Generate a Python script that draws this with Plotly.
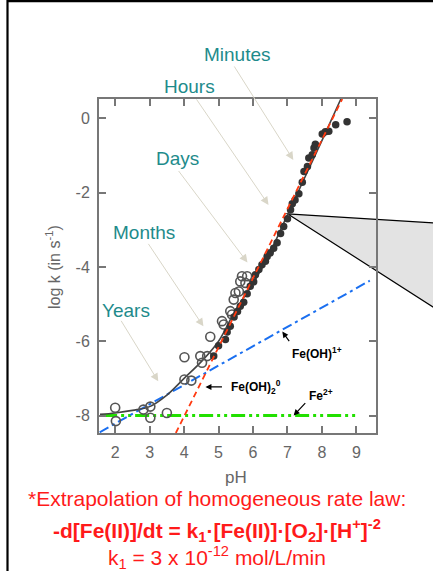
import plotly.graph_objects as go

# ---------------- data ----------------
open_ph = [2.00, 2.02, 2.82, 3.02, 3.02, 3.50, 4.01, 4.01, 4.21, 4.47, 4.52, 4.67, 4.76,
           5.10, 5.15, 5.34, 5.39, 5.44, 5.49, 5.59, 5.63, 5.68, 5.83, 5.78]
open_logk = [-7.79, -8.15, -7.84, -7.76, -8.06, -7.93, -6.43, -7.03, -7.06, -6.40, -6.58, -6.40, -5.88,
             -5.46, -5.55, -5.19, -5.28, -4.88, -4.70, -4.66, -4.39, -4.25, -4.25, -4.43]

filled_ph = [4.86, 5.00, 5.20, 5.25, 5.34, 5.45, 5.55, 5.63, 5.73, 5.83, 5.92, 6.02, 6.07, 6.17,
             6.26, 6.36, 6.41, 6.50, 6.60, 6.70, 6.80, 6.89, 7.00, 7.09, 7.14, 7.22, 7.33, 7.43,
             7.48, 7.58, 7.62, 7.72, 7.77, 7.81, 8.01, 8.10, 8.20, 8.40, 8.73]
filled_logk = [-6.40, -6.12, -5.95, -5.75, -5.60, -5.35, -5.20, -5.06, -4.95, -4.72, -4.52, -4.40,
               -4.21, -4.07, -3.94, -3.85, -3.72, -3.62, -3.50, -3.35, -3.10, -2.91, -2.70, -2.46,
               -2.30, -2.20, -2.03, -1.72, -1.43, -1.30, -1.07, -0.98, -0.80, -0.70, -0.42, -0.36,
               -0.35, -0.17, -0.09]

fit_ph = [1.56, 2.0, 2.5, 3.0, 3.5, 4.0, 4.5, 5.0, 5.5, 6.0, 6.5, 7.0, 7.5, 8.0, 8.55]
fit_logk = [-7.97, -7.93, -7.86, -7.76, -7.45, -7.0, -6.55, -6.0, -5.15, -4.45, -3.6, -2.6, -1.6, -0.6, 0.52]

feoh2_ph = [3.76, 8.59]          # Fe(OH)2^0 term (red dashed)
feoh2_logk = [-8.47, 0.52]
feoh_ph = [1.55, 9.39]           # Fe(OH)+ term (blue dash-dot)
feoh_logk = [-8.45, -4.37]
fe2_ph = [1.65, 9.0]             # Fe2+ term (green)
fe2_logk = [-8.0, -8.0]

x_ticks = [2, 3, 4, 5, 6, 7, 8, 9]
y_ticks = [0, -2, -4, -6, -8]
x_range = [1.53, 9.57]
y_range = [-8.47, 0.52]

time_labels = ["Minutes", "Hours", "Days", "Months", "Years"]
time_targets_ph = [7.17, 6.45, 5.84, 4.56, 3.25]
time_targets_logk = [-1.12, -2.33, -3.88, -5.60, -7.08]

zoom_point = (7.0, -2.57)

# ---------------- figure ----------------
W, H = 433, 571
L, R, T, B = 99, 57, 99, 138
PW, PH = W - L - R, H - T - B

def px2paper(px, py):
    return (px - L) / PW, (H - B - py) / PH

def data2paper(x, y):
    return ((x - x_range[0]) / (x_range[1] - x_range[0]),
            (y - y_range[0]) / (y_range[1] - y_range[0]))

fig = go.Figure()

fig.add_trace(go.Scatter(x=fe2_ph, y=fe2_logk, mode="lines",
                         line=dict(color="#22e000", width=3, dash="14px,4px,3px,4px,3px,4px"),
                         hoverinfo="skip"))
fig.add_trace(go.Scatter(x=feoh_ph, y=feoh_logk, mode="lines",
                         line=dict(color="#1a6ff0", width=2, dash="10px,4px,3px,4px"),
                         hoverinfo="skip"))
fig.add_trace(go.Scatter(x=fit_ph, y=fit_logk, mode="lines", line_shape="spline",
                         line=dict(color="#444444", width=1.6), hoverinfo="skip"))
fig.add_trace(go.Scatter(x=open_ph, y=open_logk, mode="markers",
                         marker=dict(symbol="circle-open", size=9, color="#555555",
                                     line=dict(width=1.6, color="#555555"))))
fig.add_trace(go.Scatter(x=filled_ph, y=filled_logk, mode="markers",
                         marker=dict(symbol="circle", size=7.5, color="#333333")))
fig.add_trace(go.Scatter(x=feoh2_ph, y=feoh2_logk, mode="lines",
                         line=dict(color="#ff3a10", width=1.8, dash="6px,4px"),
                         hoverinfo="skip"))

axis_common = dict(showline=True, linecolor="#777777", linewidth=2, mirror="ticks",
                   ticks="inside", ticklen=7, tickwidth=2, tickcolor="#777777",
                   showgrid=False, zeroline=False,
                   tickfont=dict(family="Liberation Sans, Arial, sans-serif", size=16, color="#666666"))

fig.update_layout(
    width=W, height=H,
    margin=dict(l=L, r=R, t=T, b=B),
    paper_bgcolor="white", plot_bgcolor="rgba(0,0,0,0)",
    showlegend=False,
    xaxis=dict(range=x_range, tickvals=x_ticks, ticktext=[str(v) for v in x_ticks],
               ticklabelstandoff=4, **axis_common),
    yaxis=dict(range=y_range, tickvals=y_ticks, ticktext=[str(v) for v in y_ticks],
               ticklabelstandoff=4, **axis_common),
)

# outer frame
fx0, fy1 = px2paper(7.5, 1.2)
fx1, fy0 = px2paper(460, 600)
fig.add_shape(type="rect", xref="paper", yref="paper", x0=fx0, x1=fx1, y0=fy0, y1=fy1,
              line=dict(color="black", width=2.2), fillcolor="rgba(0,0,0,0)", layer="above")

# zoom triangle
vx, vy = data2paper(*zoom_point)
ux, uy = px2paper(445, 223.7)
lx, ly = px2paper(445, 314.6)
fig.add_shape(type="path", xref="paper", yref="paper",
              path=f"M {vx},{vy} L {ux},{uy} L {lx},{ly} Z",
              fillcolor="#e3e3e3", line=dict(color="black", width=1.2), layer="below")

# axis titles
tx, ty = px2paper(53, 267)
fig.add_annotation(xref="paper", yref="paper", x=tx, y=ty, text="log k (in s<sup>-1</sup>)",
                   textangle=-90, showarrow=False, xanchor="center", yanchor="middle",
                   font=dict(family="Liberation Sans, Arial, sans-serif", size=16, color="#666666"))
tx, ty = px2paper(236, 478)
fig.add_annotation(xref="paper", yref="paper", x=tx, y=ty, text="pH", showarrow=False,
                   xanchor="center", yanchor="middle",
                   font=dict(family="Liberation Sans, Arial, sans-serif", size=17, color="#666666"))

# time labels + arrows
label_pos = [(237.5, 54), (189, 87), (177, 158), (144, 232), (126, 310)]
arrow_off = [(-60, -95), (-73, -107), (-70, -93), (-56, -84), (-38, -62)]
for lab, (lpx, lpy), tx_, ty_, (ax, ay) in zip(time_labels, label_pos, time_targets_ph,
                                             time_targets_logk, arrow_off):
    px_, py_ = px2paper(lpx, lpy)
    fig.add_annotation(xref="paper", yref="paper", x=px_, y=py_, text=lab, showarrow=False,
                       xanchor="center", yanchor="middle",
                       font=dict(family="Liberation Sans, Arial, sans-serif", size=19, color="#1e8b8b"))
    fig.add_annotation(x=tx_, y=ty_, xref="x", yref="y", text="", showarrow=True,
                       ax=ax, ay=ay, arrowhead=2, arrowsize=1.6, arrowwidth=1,
                       arrowcolor="#d9d6c8")

# species labels
small_font = dict(family="Liberation Sans, Arial, sans-serif", size=12, color="black")
species = [("<b>Fe(OH)<sup>1+</sup></b>", 290, 353, 6.85, -5.74, 8, 11),
           ("<b>Fe(OH)<sub>2</sub><sup>0</sup></b>", 229, 387, 4.62, -7.23, 18, 0),
           ("<b>Fe<sup>2+</sup></b>", 307, 395, 7.18, -8.0, 13, -14)]
for txt, lpx, lpy, hx, hy, ax, ay in species:
    px_, py_ = px2paper(lpx, lpy)
    fig.add_annotation(xref="paper", yref="paper", x=px_, y=py_, text=txt, showarrow=False,
                       xanchor="left", yanchor="middle", font=small_font)
    fig.add_annotation(x=hx, y=hy, xref="x", yref="y", text="", showarrow=True,
                       ax=ax, ay=ay, arrowhead=2, arrowsize=1, arrowwidth=1.2,
                       arrowcolor="black")

# bottom red text
red = "#ff1a1a"
lines = [("*Extrapolation of homogeneous rate law:", 498, 21),
         ("<b>-d[Fe(II)]/dt = k<sub>1</sub>·[Fe(II)]·[O<sub>2</sub>]·[H<sup>+</sup>]<sup>-2</sup></b>", 530, 21),
         ("k<sub>1</sub> = 3 x 10<sup>-12</sup> mol/L/min", 557, 21)]
for txt, lpy, sz in lines:
    px_, py_ = px2paper(216.7, lpy)
    fig.add_annotation(xref="paper", yref="paper", x=px_, y=py_, text=txt, showarrow=False,
                       xanchor="center", yanchor="middle",
                       font=dict(family="Liberation Sans, Arial, sans-serif", size=sz, color=red))

fig.write_html("out.html", config={"displayModeBar": False},
               post_script="document.body.style.margin='0px';document.body.style.overflow='hidden';")
